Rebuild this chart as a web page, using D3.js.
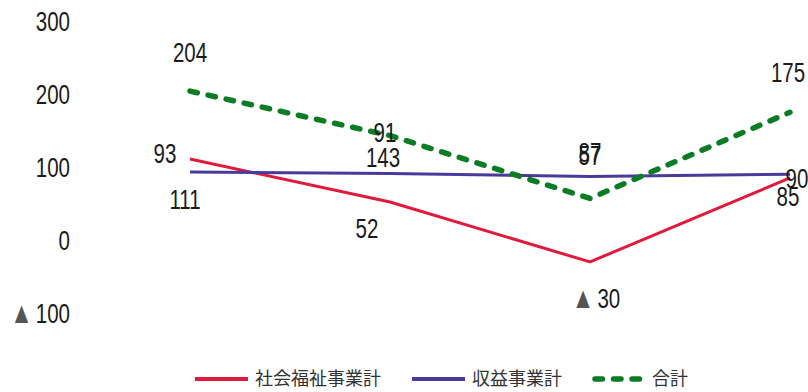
<!DOCTYPE html>
<html><head><meta charset="utf-8">
<script src="https://cdn.jsdelivr.net/npm/d3@7"></script>
<style>body{margin:0;background:#fff}svg{display:block}</style>
</head><body><svg id="c" width="808" height="392"></svg>
<script>
const categories = ["1", "2", "3", "4"];
const seriesNames = ["社会福祉事業計", "収益事業計", "合計"];
const socialWelfare = [111, 52, -30, 85];
const profitBusiness = [93, 91, 87, 90];
const total = [204, 143, 57, 175];
const yTicks = [300, 200, 100, 0, -100];

// label offsets (dx, dy) from each point
const offSocial = [[-5, 40], [-23, 26], [6, 36], [-2, 18]];
const offProfit = [[-25, -19], [-5, -41], [0, -24], [7, 4]];
const offTotal = [[0, -39], [-7, 22], [0, -43], [-2, -40]];

const svg = d3.select("#c");
const x = d3.scalePoint().domain(categories).range([190, 790]);
const y = d3.scaleLinear().domain([-100, 300]).range([313, 21]);
const numFont = "'Liberation Sans',Arial,sans-serif";
const SX = 0.76;

function numText(parent, px, py, v, anchor) {
  const t = parent.append("text")
    .attr("transform", `translate(${px},${py}) scale(${SX},1)`)
    .attr("dy", "0.36em").attr("text-anchor", anchor)
    .attr("font-family", numFont).attr("font-size", 27).attr("fill", "#1a1a1a");
  if (v < 0) {
    t.append("tspan").attr("fill", "#555").attr("font-size", 30).text("▲");
    t.append("tspan").attr("dx", 4).text(Math.abs(v));
  } else t.text(v);
  return t;
}

// y axis labels
const ax = d3.axisLeft(y).tickValues(yTicks).tickSize(0).tickPadding(0).tickFormat(() => "");
const g = svg.append("g").attr("transform", "translate(70,0)").call(ax);
g.select(".domain").remove();
g.selectAll(".tick text").remove();
g.selectAll(".tick").each(function(d) {
  numText(d3.select(this), 0, 0, d, "end");
});

const series = [
  {name: seriesNames[0], values: socialWelfare, color: "#e01a3c", width: 3, dash: null, off: offSocial},
  {name: seriesNames[1], values: profitBusiness, color: "#4a3a9c", width: 3, dash: null, off: offProfit},
  {name: seriesNames[2], values: total, color: "#0a7d24", width: 5.5, dash: "7.5 11", off: offTotal}
];

const line = d3.line().x((d, i) => x(categories[i])).y(d => y(d));

series.forEach(s => {
  svg.append("path").datum(s.values).attr("d", line)
    .attr("fill", "none").attr("stroke", s.color).attr("stroke-width", s.width)
    .attr("stroke-dasharray", s.dash).attr("stroke-linecap", s.dash ? "round" : "butt")
    .attr("stroke-linejoin", "round");
});

series.forEach(s => {
  s.values.forEach((v, i) => {
    numText(svg, x(categories[i]) + s.off[i][0], y(v) + s.off[i][1], v, "middle");
  });
});

// legend
const lg = svg.append("g");
const legendX = [195, 412, 592];
series.forEach((s, i) => {
  const lx = legendX[i];
  lg.append("line").attr("x1", lx + (s.dash ? 3 : 0)).attr("x2", lx + 53).attr("y1", 379).attr("y2", 379)
    .attr("stroke", s.color).attr("stroke-width", s.dash ? 5.5 : 4)
    .attr("stroke-dasharray", s.dash).attr("stroke-linecap", s.dash ? "round" : "butt");
  lg.append("text").attr("x", lx + 60).attr("y", 379).attr("dy", "0.36em")
    .attr("font-family", "'Noto Sans CJK JP',sans-serif").attr("font-size", 18)
    .attr("fill", "#333").text(s.name);
});
</script></body></html>
